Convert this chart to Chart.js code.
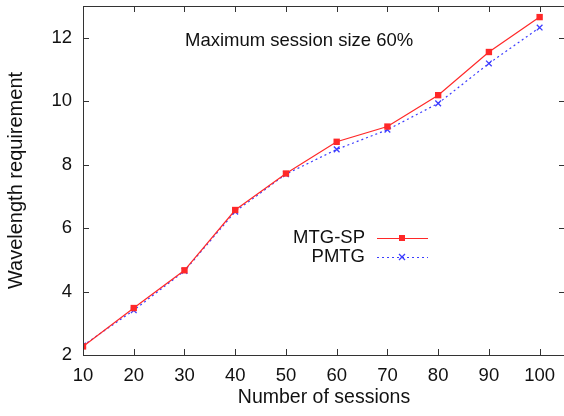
<!DOCTYPE html>
<html>
<head>
<meta charset="utf-8">
<script src="https://cdn.jsdelivr.net/npm/chart.js@4/dist/chart.umd.min.js"></script>
<style>
html,body{margin:0;padding:0;background:#fff;overflow:hidden;}
#wrap{width:572px;height:416px;position:relative;}
</style>
</head>
<body>
<div id="wrap"><canvas id="c" width="572" height="416"></canvas></div>
<script>
const sessions = [10, 20, 30, 40, 50, 60, 70, 80, 90, 100];
const mtgsp = [2.27, 3.48, 4.67, 6.57, 7.72, 8.72, 9.2, 10.19, 11.55, 12.65];
const pmtg  = [2.3, 3.41, 4.65, 6.52, 7.7, 8.48, 9.1, 9.93, 11.19, 12.32];
const xTicks = [10, 20, 30, 40, 50, 60, 70, 80, 90, 100];
const yTicks = [2, 4, 6, 8, 10, 12];
const seriesNames = ['MTG-SP', 'PMTG'];
const annotation = 'Maximum session size 60%';

const FONT = '"Liberation Sans", Arial, sans-serif';
const FS = 18.5;
const RED = 'rgb(255,40,40)';
const BLUE = 'rgb(60,60,255)';

const inwardTicks = {
  id: 'inwardTicks',
  afterDraw(chart) {
    const ctx = chart.ctx, a = chart.chartArea;
    const xs = chart.scales.x, ys = chart.scales.y;
    ctx.save();
    ctx.strokeStyle = '#333';
    ctx.lineWidth = 1;
    ctx.beginPath();
    xTicks.forEach(v => {
      const px = Math.round(xs.getPixelForValue(v)) + 0.5;
      ctx.moveTo(px, a.bottom); ctx.lineTo(px, a.bottom - 6);
      ctx.moveTo(px, a.top); ctx.lineTo(px, a.top + 6);
    });
    yTicks.forEach(v => {
      const py = Math.round(ys.getPixelForValue(v)) + 0.5;
      ctx.moveTo(a.left, py); ctx.lineTo(a.left + 6, py);
      ctx.moveTo(a.right, py); ctx.lineTo(a.right - 6, py);
    });
    ctx.stroke();
    ctx.strokeRect(Math.round(a.left)+0.5, Math.round(a.top)+0.5, Math.round(a.right-a.left), Math.round(a.bottom-a.top));
    // annotation
    ctx.fillStyle = '#111';
    ctx.font = FS + 'px ' + FONT;
    ctx.textAlign = 'left';
    ctx.textBaseline = 'middle';
    ctx.fillText(annotation, 185, 41);
    // legend
    const ds = chart.data.datasets;
    const rows = [238, 257];
    ds.forEach((d, i) => {
      const y = rows[i];
      ctx.fillStyle = '#111';
      ctx.textAlign = 'right';
      ctx.fillText(seriesNames[i], 365, y);
      ctx.save();
      ctx.strokeStyle = d.borderColor;
      ctx.lineWidth = 1;
      ctx.setLineDash(d.borderDash || []);
      ctx.beginPath();
      ctx.moveTo(377, y + 0.5); ctx.lineTo(428, y + 0.5);
      ctx.stroke();
      ctx.setLineDash([]);
      if (i === 0) {
        ctx.fillStyle = RED;
        ctx.fillRect(399, y - 3, 6, 6);
      } else {
        ctx.strokeStyle = BLUE;
        ctx.lineWidth = 1.3;
        ctx.beginPath();
        ctx.moveTo(399, y - 3); ctx.lineTo(405, y + 3);
        ctx.moveTo(405, y - 3); ctx.lineTo(399, y + 3);
        ctx.stroke();
      }
      ctx.restore();
    });
    ctx.restore();
  }
};

new Chart(document.getElementById('c'), {
  type: 'line',
  data: {
    datasets: [
      {
        label: seriesNames[0],
        data: sessions.map((x, i) => ({x, y: mtgsp[i]})),
        borderColor: RED, backgroundColor: RED,
        borderWidth: 1.2, pointStyle: 'rect', pointRadius: 4.5,
        pointBorderWidth: 0, tension: 0
      },
      {
        label: seriesNames[1],
        data: sessions.map((x, i) => ({x, y: pmtg[i]})),
        borderColor: BLUE, backgroundColor: BLUE,
        borderWidth: 1.2, borderDash: [2, 3], pointStyle: 'crossRot', pointRadius: 4,
        pointBorderWidth: 1.3, tension: 0
      }
    ]
  },
  options: {
    responsive: false,
    animation: false,
    layout: { padding: { top: 6, right: 7, left: 0, bottom: 0 } },
    plugins: { legend: { display: false }, tooltip: { enabled: false } },
    scales: {
      x: {
        type: 'linear', min: 10, max: 105,
        afterFit(s) { s.height = 61; s.paddingLeft = 0; s.paddingRight = 0; },
        afterBuildTicks(s) { s.ticks = xTicks.map(v => ({value: v})); },
        grid: { display: false, drawTicks: false },
        border: { display: false },
        ticks: { color: '#111', font: { family: FONT, size: FS }, padding: 10, maxRotation: 0 },
        title: { display: true, text: 'Number of sessions', color: '#111', font: { family: FONT, size: 19.5 }, padding: { top: 4, bottom: 7 } }
      },
      y: {
        type: 'linear', min: 2, max: 13,
        afterFit(s) { s.width = 83; s.paddingTop = 0; s.paddingBottom = 0; },
        afterBuildTicks(s) { s.ticks = yTicks.map(v => ({value: v})); },
        grid: { display: false, drawTicks: false },
        border: { display: false },
        ticks: { color: '#111', font: { family: FONT, size: FS }, padding: 11 },
        title: { display: true, text: 'Wavelength requirement', color: '#111', font: { family: FONT, size: 20 }, padding: { top: 4, bottom: 0 } }
      }
    }
  },
  plugins: [inwardTicks]
});
</script>
</body>
</html>
